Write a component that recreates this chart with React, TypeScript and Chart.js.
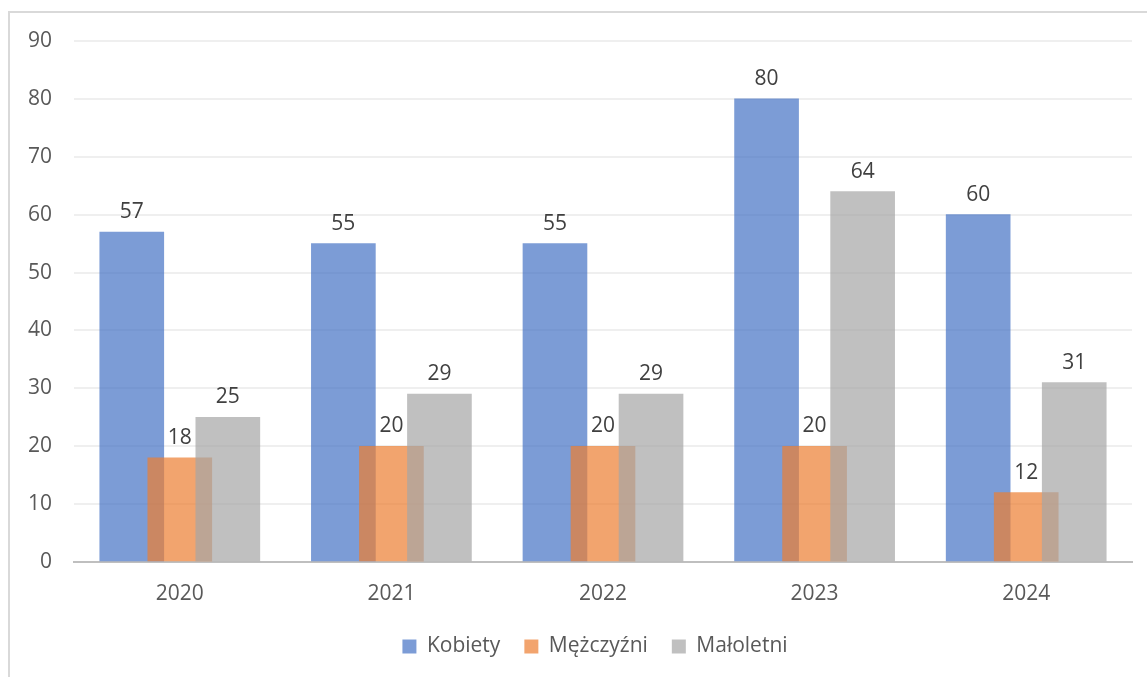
import React, { useEffect, useRef } from "react";
import { Chart, registerables } from "chart.js";

Chart.register(...registerables);

const years = ["2020", "2021", "2022", "2023", "2024"];
const kobiety = [57, 55, 55, 80, 60];
const mezczyzni = [18, 20, 20, 20, 12];
const maloletni = [25, 29, 29, 64, 31];
const yTicks = [0, 10, 20, 30, 40, 50, 60, 70, 80, 90];

const seriesNames = ["Kobiety", "Mężczyźni", "Małoletni"];
const seriesColors = ["rgba(68,114,196,0.7)", "rgba(237,125,49,0.7)", "rgba(165,165,165,0.7)"];
const seriesShift = [-0.227, 0, 0.227];
const FONT = "'Open Sans', 'DejaVu Sans', sans-serif";

const labelPlugin = {
  id: "barValueLabels",
  afterDatasetsDraw(chart: any) {
    const ctx = chart.ctx;
    ctx.save();
    ctx.font = `21px ${FONT}`;
    ctx.fillStyle = "#404040";
    ctx.textAlign = "center";
    ctx.textBaseline = "alphabetic";
    chart.data.datasets.forEach((ds: any, di: number) => {
      const meta = chart.getDatasetMeta(di);
      meta.data.forEach((el: any, i: number) => {
        ctx.fillText(String(ds.data[i].y), el.x, el.y - 14);
      });
    });
    ctx.restore();
  },
};

const legendShift = {
  id: "legendShift",
  afterLayout(chart: any) {
    if (chart.legend) {
      chart.legend.left += 29;
      chart.legend.right += 29;
    }
  },
};

export default function App() {
  const ref = useRef<HTMLCanvasElement>(null);
  useEffect(() => {
    document.body.style.margin = "0";
    const series = [kobiety, mezczyzni, maloletni];
    const chart = new Chart(ref.current!, {
      type: "bar",
      data: {
        datasets: series.map((vals, si) => ({
          label: seriesNames[si],
          data: vals.map((v, i) => ({ x: i + seriesShift[si], y: v })),
          backgroundColor: seriesColors[si],
          borderWidth: 0,
          barThickness: 64,
          grouped: false,
          order: series.length - si,
        })),
      },
      options: {
        animation: false,
        responsive: false,
        maintainAspectRatio: false,
        layout: { padding: { top: 41, right: 15, left: 0, bottom: 10 } },
        plugins: {
          tooltip: { enabled: false },
          legend: {
            position: "bottom",
            labels: {
              boxWidth: 14,
              boxHeight: 14,
              padding: 24,
              color: "#595959",
              font: { family: FONT, size: 21 },
              sort: (a: any, b: any) => a.datasetIndex - b.datasetIndex,
            },
          },
        },
        scales: {
          x: {
            type: "linear",
            min: -0.5,
            max: 4.5,
            offset: false,
            afterBuildTicks: (scale: any) => {
              scale.ticks = years.map((_, i) => ({ value: i }));
            },
            afterFit: (scale: any) => {
              scale.height = 50;
            },
            ticks: {
              callback: (v: any) => years[Math.round(Number(v))] ?? "",
              color: "#595959",
              font: { family: FONT, size: 21 },
              padding: 19,
              maxRotation: 0,
              autoSkip: false,
            },
            grid: { display: false, drawTicks: false, offset: false },
            border: { display: true, color: "#bfbfbf", width: 2 },
          },
          y: {
            min: 0,
            max: 90,
            afterBuildTicks: (scale: any) => {
              scale.ticks = yTicks.map((v) => ({ value: v }));
            },
            afterFit: (scale: any) => {
              scale.width = 74;
            },
            ticks: {
              color: "#595959",
              font: { family: FONT, size: 21 },
              padding: 22,
            },
            grid: { color: "#efefef", lineWidth: 2, drawTicks: false },
            border: { display: false },
          },
        },
      },
      plugins: [labelPlugin, legendShift],
    });
    return () => chart.destroy();
  }, []);

  return (
    <div style={{ position: "relative", width: 1147, height: 677, overflow: "hidden", background: "#fff" }}>
      <div
        style={{
          position: "absolute",
          left: 8,
          top: 11,
          right: 0,
          bottom: 0,
          borderLeft: "2px solid #d9d9d9",
          borderTop: "2px solid #d9d9d9",
        }}
      />
      <canvas ref={ref} width={1147} height={677} style={{ position: "absolute", left: 0, top: 0 }} />
    </div>
  );
}
